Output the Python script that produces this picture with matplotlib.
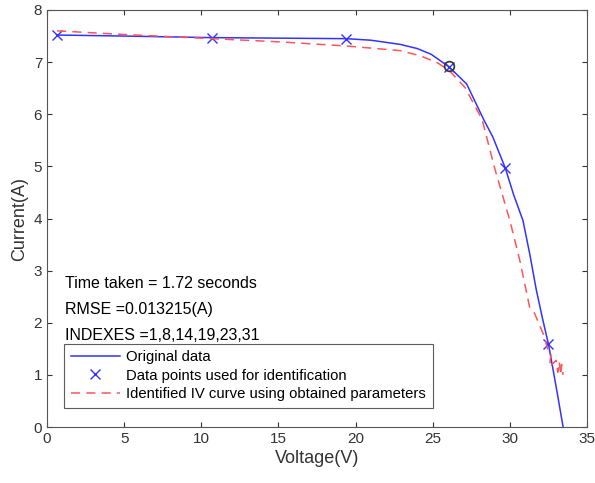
import numpy as np
import matplotlib.pyplot as plt

plt.rcParams['font.family'] = ['Liberation Sans', 'DejaVu Sans']

# original measured IV data
v_orig = [0.65, 5.0, 10.7, 15.0, 19.4, 21.0, 22.9, 24.0, 24.9, 26.05, 27.2, 28.3, 28.9,
          29.7, 30.25, 30.85, 31.3, 31.7, 32.1, 32.5, 32.8, 33.1, 33.45]
i_orig = [7.52, 7.50, 7.47, 7.46, 7.45, 7.42, 7.34, 7.26, 7.15, 6.91, 6.58, 5.90, 5.56,
          4.97, 4.45, 3.96, 3.30, 2.65, 2.10, 1.59, 1.10, 0.60, 0.0]

# points used for identification
v_sel = [0.65, 10.7, 19.4, 26.05, 29.7, 32.5]
i_sel = [7.52, 7.47, 7.45, 6.91, 4.97, 1.59]

# identified curve
v_fit = [0.65, 5.0, 10.7, 15.0, 19.4, 22.9, 24.2, 25.3, 26.1, 27.1, 28.2, 29.0, 30.0,
         30.64, 31.28, 31.6, 32.24, 32.46, 32.67, 32.56, 33.0, 33.1, 33.2, 33.3, 33.35, 33.45]
i_fit = [7.60, 7.53, 7.45, 7.39, 7.31, 7.22, 7.12, 6.99, 6.83, 6.51, 5.90, 4.98, 3.96,
         3.20, 2.30, 2.18, 1.73, 1.47, 1.41, 1.15, 1.28, 1.05, 1.25, 1.00, 1.20, 1.00]

circ_v = [26.05]
circ_i = [6.93]

fig = plt.figure(figsize=(5.95, 4.83), dpi=100)
ax = fig.add_axes([0.079, 0.1159, 0.9076, 0.8634])

ax.plot(v_orig, i_orig, color='#3333ff', lw=1.1, label='Original data')
ax.plot(v_sel, i_sel, 'x', color='#3333ff', ms=7, mew=1.0, linestyle='none',
        label='Data points used for identification')
ax.plot(v_fit, i_fit, '--', color='#ff5555', lw=1.1, dashes=(6, 4),
        label='Identified IV curve using obtained parameters')
ax.plot(circ_v, circ_i, 'o', mfc='none', mec='#333333', ms=7, mew=1.2)

ax.set_xlim(0, 35)
ax.set_ylim(0, 8)
ax.set_xticks(np.arange(0, 36, 5))
ax.set_yticks(np.arange(0, 9, 1))
ax.tick_params(direction='in', top=True, right=True, labelsize=11, colors='#333333')
for s in ax.spines.values():
    s.set_color('#555555')
ax.set_xlabel('Voltage(V)', fontsize=13, color='#333333', labelpad=3)
ax.set_ylabel('Current(A)', fontsize=13, color='#333333', labelpad=4)

ax.text(1.17, 2.76, 'Time taken = 1.72 seconds', fontsize=11.5, va='center')
ax.text(1.17, 2.26, 'RMSE =0.013215(A)', fontsize=11.5, va='center')
ax.text(1.17, 1.76, 'INDEXES =1,8,14,19,23,31', fontsize=11.5, va='center')

leg = ax.legend(loc='lower left', bbox_to_anchor=(0.0315, 0.046), fontsize=10.7,
                fancybox=False, edgecolor='#333333', borderpad=0.45,
                labelspacing=0.3, handlelength=3.3, handletextpad=0.45,
                borderaxespad=0)
leg.get_frame().set_linewidth(0.8)

fig.savefig('out.png', dpi=100)
